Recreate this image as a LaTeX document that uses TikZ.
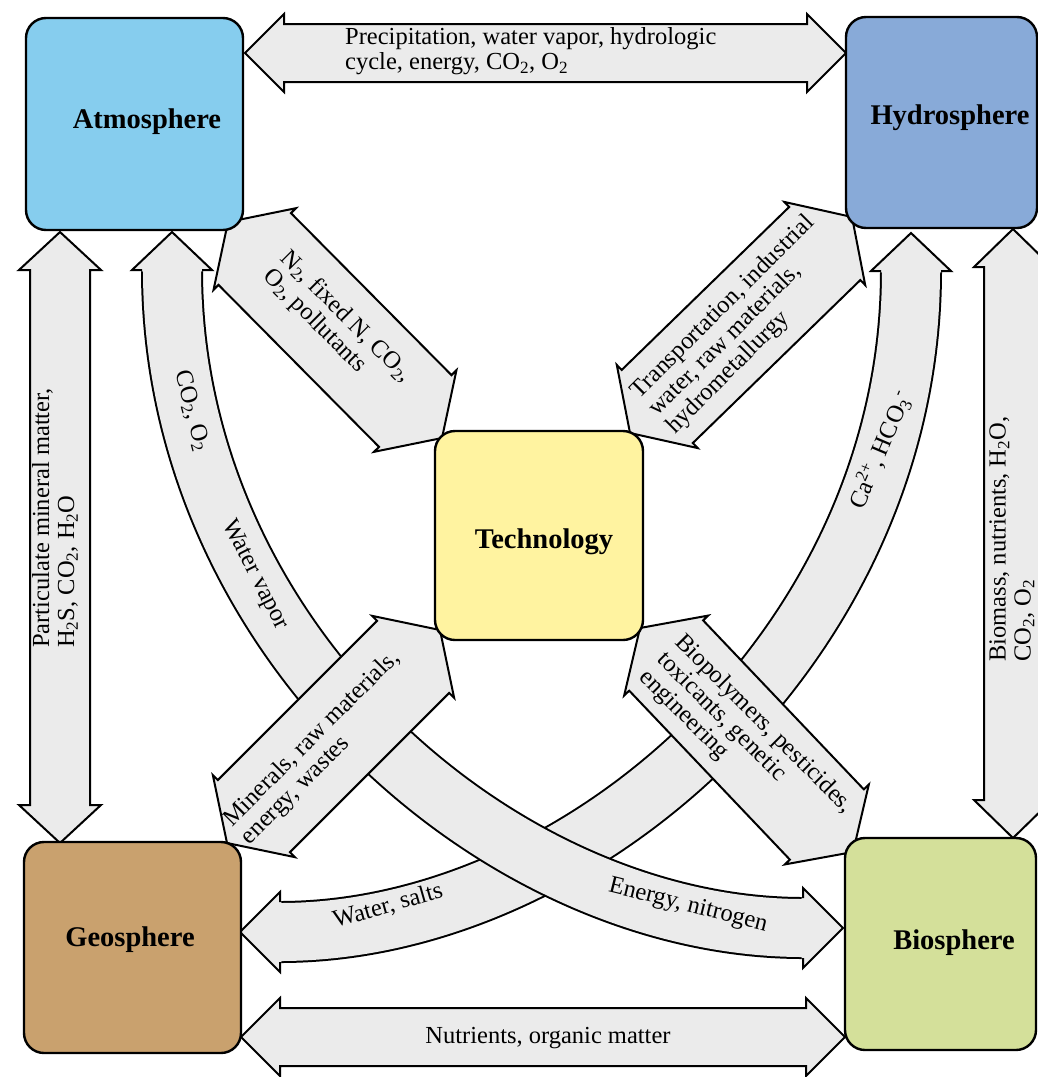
\documentclass[tikz,border=0pt]{standalone}
\usepackage{fontspec}
\setmainfont{Liberation Serif}
\usetikzlibrary{calc}
\definecolor{atmc}{RGB}{134,205,238}
\definecolor{hydc}{RGB}{136,170,216}
\definecolor{tecc}{RGB}{255,243,160}
\definecolor{geoc}{RGB}{201,161,110}
\definecolor{bioc}{RGB}{212,224,154}
\definecolor{arrc}{RGB}{235,235,235}
\tikzset{
  box/.style={draw=black, line width=2.4pt, rounded corners=20pt, inner sep=0pt},
  title/.style={font=\fontsize{28.5}{30}\selectfont\bfseries, inner sep=0pt},
  lbl/.style={font=\fontsize{24.5}{25}\selectfont, align=left, inner sep=0pt},
  arrowbox/.style={draw=black, line width=2pt, fill=arrc, line join=miter},
}
% straight double arrow: #1 tip A, #2 tip B, #3 shaft half width, #4 head half width, #5 head length
\newcommand\dbarrow[5]{%
  \draw[arrowbox] (#1)
   -- ($(#1)!#5!(#2)!#4!90:(#2)$)
   -- ($(#1)!#5!(#2)!#3!90:(#2)$)
   -- ($(#2)!#5!(#1)!#3!-90:(#1)$)
   -- ($(#2)!#5!(#1)!#4!-90:(#1)$)
   -- (#2)
   -- ($(#2)!#5!(#1)!#4!90:(#1)$)
   -- ($(#2)!#5!(#1)!#3!90:(#1)$)
   -- ($(#1)!#5!(#2)!#3!-90:(#2)$)
   -- ($(#1)!#5!(#2)!#4!-90:(#2)$)
   -- cycle;}
% head of a bent arrow: #1 tip, #2 centre of head base
\newcommand\bhead[2]{%
  \fill[arrc] ($(#2)!1pt!(#1)!40pt!90:(#1)$) -- (#1) -- ($(#2)!1pt!(#1)!40pt!-90:(#1)$)
     -- ($(#2)!-1.5pt!(#1)!29pt!-90:(#1)$) -- ($(#2)!-1.5pt!(#1)!29pt!90:(#1)$) -- cycle;
  \draw[line width=2pt, line join=miter] ($(#2)!30pt!90:(#1)$) -- ($(#2)!40pt!90:(#1)$)
     -- (#1) -- ($(#2)!40pt!-90:(#1)$) -- ($(#2)!30pt!-90:(#1)$);}
\begin{document}
\begin{tikzpicture}[x=1pt,y=-1pt]
\useasboundingbox (0,0) rectangle (1038,1077);
\fill[white] (0,0) rectangle (1038,1077);

% ---------- bent arrows ----------
% Hydrosphere <-> Geosphere (Ca2+, HCO3-, water, salts)
\coordinate (r0) at (911,271);
\coordinate (r3) at (280,932);
\coordinate (rtip0) at (911,233);
\coordinate (rtip3) at (240,932);
\draw[line width=62pt] (r0) .. controls (911,642) and (583,932) .. (r3);
\draw[line width=58pt, arrc] (r0) .. controls (911,642) and (583,932) .. (r3);
\bhead{rtip0}{r0}
\bhead{rtip3}{r3}

% Atmosphere <-> Biosphere (CO2, O2, water vapor, energy, nitrogen)
\coordinate (l0) at (172,270);
\coordinate (l3) at (803,928);
\coordinate (ltip0) at (172,232);
\coordinate (ltip3) at (843,928);
\draw[line width=62pt] (l0) .. controls (172,640) and (500,928) .. (l3);
\draw[line width=58pt, arrc] (l0) .. controls (172,640) and (500,928) .. (l3);
\bhead{ltip0}{l0}
\bhead{ltip3}{l3}

% ---------- straight arrows ----------
\coordinate (th1) at (245,53);   \coordinate (th2) at (846,53);
\coordinate (bh1) at (241,1037); \coordinate (bh2) at (845,1037);
\coordinate (lv1) at (60,232);   \coordinate (lv2) at (60,843);
\coordinate (rv1) at (1013,229); \coordinate (rv2) at (1013,838);
\coordinate (nw1) at (228,222);  \coordinate (nw2) at (442,438);
\coordinate (ne1) at (852,217);  \coordinate (ne2) at (630,433);
\coordinate (sw1) at (440,630);  \coordinate (sw2) at (227,843);
\coordinate (se1) at (640,628);  \coordinate (se2) at (853,852);

\dbarrow{nw1}{nw2}{51pt}{58pt}{38pt}
\dbarrow{ne1}{ne2}{51pt}{58pt}{38pt}
\dbarrow{sw1}{sw2}{51pt}{58pt}{38pt}
\dbarrow{se1}{se2}{51pt}{58pt}{38pt}
\dbarrow{th1}{th2}{29pt}{39pt}{39pt}
\dbarrow{bh1}{bh2}{29pt}{39pt}{39pt}
\dbarrow{lv1}{lv2}{30pt}{41pt}{38pt}
\dbarrow{rv1}{rv2}{29pt}{39pt}{38pt}

% ---------- boxes ----------
\node[box, fill=atmc, minimum width=217pt, minimum height=212pt] (atm) at (134.5,124) {};
\node[box, fill=hydc, minimum width=191pt, minimum height=211pt] (hyd) at (941.5,122.5) {};
\node[box, fill=tecc, minimum width=208pt, minimum height=209pt] (tec) at (539,535.5) {};
\node[box, fill=geoc, minimum width=217pt, minimum height=211pt] (geo) at (132.5,947.5) {};
\node[box, fill=bioc, minimum width=191pt, minimum height=212pt] (bio) at (940.5,944) {};

\node[title] (atmt) at (147,122) {Atmosphere};
\node[title] (hydt) at (950,118) {Hydrosphere};
\node[title] (tect) at (544,542) {Technology};
\node[title] (geot) at (130,940) {Geosphere};
\node[title] (biot) at (954,943) {Biosphere};

% ---------- labels ----------
\node[lbl, anchor=west] (ltop) at (345,51) {Precipitation, water vapor, hydrologic\\cycle, energy, CO\textsubscript{2}, O\textsubscript{2}};
\node[lbl] (lbot) at (548,1038) {Nutrients, organic matter};
\node[lbl, rotate=90, anchor=west] (lleft) at (55,648) {Particulate mineral matter,\\H\textsubscript{2}S, CO\textsubscript{2}, H\textsubscript{2}O};
\node[lbl, rotate=90, anchor=west] (lright) at (1012,662) {Biomass, nutrients, H\textsubscript{2}O,\\CO\textsubscript{2}, O\textsubscript{2}};
\node[lbl, rotate=-45] (lnw) at (337,326) {N\textsubscript{2}, fixed N, CO\textsubscript{2},\\O\textsubscript{2}, pollutants};
\node[lbl, rotate=45] (lne) at (741,325) {Transportation, industrial\\water, raw materials,\\hydrometallurgy};
\node[lbl, rotate=45] (lsw) at (321,748) {Minerals, raw materials,\\energy, wastes};
\node[lbl, rotate=-45] (lse) at (746,742) {Biopolymers, pesticides,\\toxicants, genetic\\engineering};
\node[lbl, rotate=-75] (lco) at (192,411) {CO\textsubscript{2}, O\textsubscript{2}};
\node[lbl, rotate=-63] (lwv) at (255,575) {Water vapor};
\node[lbl, rotate=-14] (len) at (688,906) {Energy, nitrogen};
\node[lbl, rotate=16] (lws) at (388,906) {Water, salts};
\node[lbl, rotate=67] (lca) at (880,450) {Ca\textsuperscript{2+}, HCO\textsubscript{3}\textsuperscript{-}};
\end{tikzpicture}
\end{document}
